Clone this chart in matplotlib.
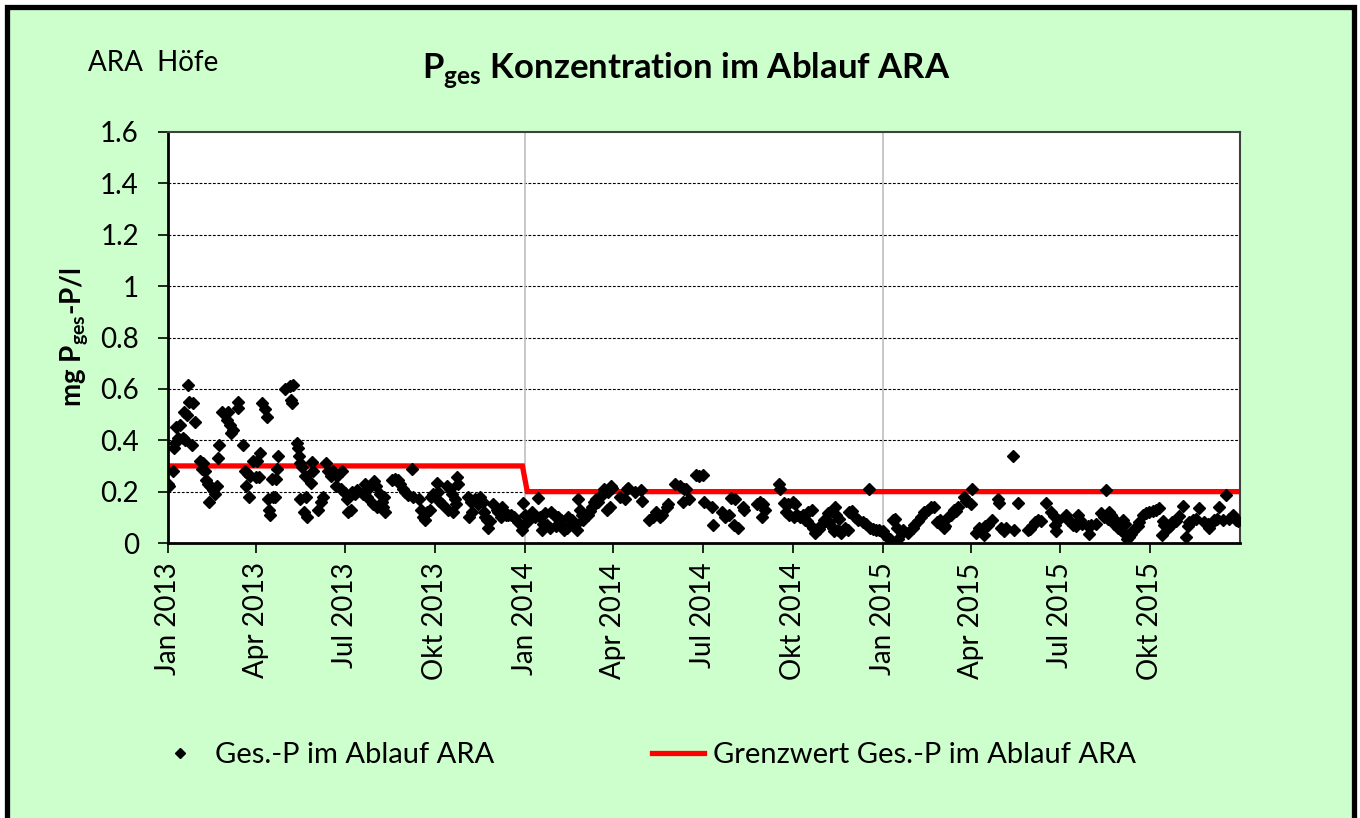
import numpy as np
import pandas as pd
import matplotlib
matplotlib.use("Agg")
import matplotlib.pyplot as plt
from matplotlib.patches import Rectangle
from matplotlib.lines import Line2D

plt.rcParams['font.family'] = ['Lato', 'DejaVu Sans']
plt.rcParams['mathtext.fontset'] = 'custom'
plt.rcParams['mathtext.rm'] = 'Lato'
plt.rcParams['mathtext.bf'] = 'Lato:bold'

# Messwerte: Tage seit 1.1.2013 und Ges.-P in mg/l
tage = [
    0, 1, 5, 6, 7, 8, 10, 12, 15, 16, 17, 19, 20, 21, 26, 28, 25, 33, 35, 36,
    38, 39, 41, 42, 43, 46, 48, 50, 51, 52, 55, 61, 60, 63, 64, 66, 71, 72, 77, 79,
    80, 82, 83, 84, 87, 91, 90, 93, 94, 96, 99, 101, 102, 103, 104, 106, 107, 109, 110, 111,
    112, 120, 125, 128, 126, 127, 132, 133, 134, 135, 135, 137, 140, 141, 139, 142, 147, 148, 146, 153,
    156, 158, 161, 163, 166, 169, 173, 172, 178, 177, 181, 183, 184, 186, 189, 193,
    188, 191, 187, 201, 204, 210, 212, 199, 203, 209, 213, 219, 220, 222, 217, 221, 229, 232, 235, 237,
    240, 242, 249, 245, 250, 256, 258, 260, 263, 265, 268, 269, 271, 275, 276, 277, 280, 285, 288, 290,
    295, 296, 286, 291, 293, 294, 306, 309, 311, 307, 314, 317, 319, 322, 323, 324, 326, 327, 329, 332,
    336, 337, 341, 343, 347, 340, 345, 350, 353, 357, 363, 365, 367, 362, 372, 375, 378, 380, 382, 383,
    385, 387, 391, 390, 394, 396, 398, 401, 402, 404, 408, 409, 413, 416, 418, 419, 421, 423, 424, 426,
    429, 431, 433, 435, 437, 439, 440, 444, 445, 449, 450, 452, 454, 448, 451, 462, 467, 469, 470, 477,
    483, 484, 491, 495, 498, 503, 505, 510, 511, 518, 523, 527, 529, 526, 532, 539, 542, 546, 547, 556,
    557, 566, 569, 573, 575, 578, 582,
    579, 587, 588, 602, 605, 608, 610, 607, 624, 625, 629, 633, 638, 640, 631, 634, 639, 643, 646, 649,
    654, 658, 651, 653, 659, 661, 665, 667, 670, 674, 672, 675, 679, 680, 684, 687, 692, 695, 681, 682,
    685, 696, 699, 702, 705, 710, 713, 716, 717, 720, 723, 726, 730, 731, 735, 738, 741, 743, 745, 746,
    750, 751, 756, 761, 762, 766, 769, 772, 776,
    779, 782, 789, 786, 791, 794, 793, 797, 800, 803, 805, 807, 813, 815, 820, 821, 825, 828, 832, 833,
    835, 838, 842, 848, 849, 851, 854, 856, 863, 864, 868, 878, 881, 883, 886, 889, 892, 897, 902, 905,
    909, 906, 907, 917, 919, 922, 924, 927, 930, 932, 934, 940, 941, 943, 948, 953, 956, 960, 958, 963,
    965, 966, 970, 973,
    961, 968, 971, 976, 978, 977, 980, 982, 984, 986, 987, 991, 992, 996, 999, 1002, 1006, 1009, 1012, 1016,
    1017, 1015, 1021, 1024, 1026, 1030, 1033, 1037, 1040, 1042, 1043, 1047, 1050, 1053, 1058, 1062, 1063, 1067, 1068, 1072,
    1074, 1078, 1081, 1084, 1088, 1091, 1093,
]
p_ges = [
    0.23, 0.22, 0.28, 0.37, 0.39, 0.45, 0.41, 0.46, 0.41, 0.51, 0.40, 0.50, 0.615, 0.55, 0.545, 0.47, 0.38, 0.32, 0.29, 0.31,
    0.28, 0.245, 0.23, 0.16, 0.22, 0.205, 0.19, 0.22, 0.33, 0.38, 0.51, 0.51, 0.48, 0.46, 0.43, 0.44, 0.55, 0.525, 0.38, 0.28,
    0.22, 0.27, 0.18, 0.26, 0.32, 0.32, 0.255, 0.255, 0.35, 0.545, 0.52, 0.49, 0.17, 0.13, 0.11, 0.25, 0.18, 0.18, 0.25, 0.29,
    0.34, 0.60, 0.61, 0.615, 0.555, 0.545, 0.39, 0.37, 0.34, 0.31, 0.17, 0.295, 0.26, 0.18, 0.12, 0.10, 0.315, 0.28, 0.235, 0.13,
    0.16, 0.18, 0.31, 0.28, 0.26, 0.28, 0.26, 0.22, 0.28, 0.21, 0.195, 0.17, 0.12, 0.185, 0.195, 0.205,
    0.20, 0.19, 0.13, 0.23, 0.21, 0.24, 0.22, 0.19, 0.18, 0.15, 0.14, 0.16, 0.14, 0.12, 0.19, 0.18, 0.245, 0.25, 0.245, 0.23,
    0.21, 0.20, 0.29, 0.185, 0.18, 0.17, 0.13, 0.10, 0.09, 0.12, 0.13, 0.18, 0.19, 0.235, 0.20, 0.165, 0.15, 0.22, 0.21, 0.19,
    0.255, 0.23, 0.13, 0.12, 0.17, 0.15, 0.18, 0.16, 0.12, 0.10, 0.17, 0.15, 0.18, 0.16, 0.12, 0.10, 0.09, 0.06, 0.085, 0.15,
    0.13, 0.12, 0.14, 0.12, 0.11, 0.10, 0.11, 0.11, 0.10, 0.08, 0.155, 0.11, 0.08, 0.05, 0.12, 0.10, 0.175, 0.10, 0.05, 0.075,
    0.115, 0.07, 0.12, 0.06, 0.11, 0.065, 0.10, 0.09, 0.07, 0.05, 0.06, 0.10, 0.09, 0.07, 0.05, 0.17, 0.13, 0.11, 0.09, 0.10,
    0.11, 0.125, 0.14, 0.16, 0.17, 0.16, 0.18, 0.19, 0.21, 0.20, 0.21, 0.22, 0.215, 0.13, 0.14, 0.18, 0.17, 0.21, 0.215, 0.20,
    0.205, 0.165, 0.09, 0.10, 0.12, 0.10, 0.11, 0.14, 0.15, 0.23, 0.22, 0.21, 0.21, 0.16, 0.17, 0.265, 0.26, 0.265, 0.16, 0.14,
    0.07, 0.12, 0.10, 0.11, 0.175, 0.07, 0.06,
    0.17, 0.14, 0.13, 0.15, 0.16, 0.15, 0.13, 0.10, 0.23, 0.21, 0.155, 0.15, 0.16, 0.15, 0.12, 0.11, 0.10, 0.11, 0.10, 0.11,
    0.12, 0.13, 0.09, 0.085, 0.06, 0.04, 0.055, 0.07, 0.09, 0.115, 0.085, 0.08, 0.06, 0.045, 0.05, 0.04, 0.06, 0.05, 0.14, 0.11,
    0.095, 0.12, 0.125, 0.10, 0.09, 0.08, 0.075, 0.21, 0.06, 0.055, 0.05, 0.05, 0.045, 0.035, 0.02, 0.015, 0.09, 0.095, 0.06, 0.015,
    0.04, 0.05, 0.04, 0.06, 0.07, 0.085, 0.10, 0.12, 0.13,
    0.14, 0.14, 0.09, 0.08, 0.07, 0.065, 0.06, 0.10, 0.11, 0.13, 0.125, 0.14, 0.18, 0.165, 0.15, 0.21, 0.04, 0.06, 0.055, 0.03,
    0.065, 0.07, 0.09, 0.17, 0.155, 0.06, 0.045, 0.06, 0.34, 0.05, 0.155, 0.05, 0.055, 0.065, 0.08, 0.09, 0.085, 0.155, 0.12, 0.105,
    0.09, 0.07, 0.045, 0.11, 0.09, 0.08, 0.07, 0.065, 0.11, 0.09, 0.075, 0.065, 0.035, 0.07, 0.075, 0.115, 0.10, 0.095, 0.205, 0.11,
    0.08, 0.075, 0.06, 0.05,
    0.12, 0.085, 0.07, 0.09, 0.075, 0.04, 0.015, 0.025, 0.035, 0.045, 0.055, 0.065, 0.08, 0.11, 0.115, 0.12, 0.125, 0.13, 0.135, 0.085,
    0.07, 0.03, 0.06, 0.065, 0.08, 0.085, 0.105, 0.145, 0.025, 0.065, 0.08, 0.09, 0.095, 0.135, 0.08, 0.075, 0.06, 0.08, 0.09, 0.095,
    0.14, 0.09, 0.185, 0.095, 0.11, 0.09, 0.085,
]

# Grenzwert
grenz_datum = ['2013-01-01', '2013-12-29', '2014-01-03', '2016-01-01']
grenz_wert = [0.3, 0.3, 0.2, 0.2]

monate = {1: 'Jan', 4: 'Apr', 7: 'Jul', 10: 'Okt'}
y_ticks = [0, 0.2, 0.4, 0.6, 0.8, 1.0, 1.2, 1.4, 1.6]

datum = np.datetime64('2013-01-01') + np.array(tage).astype('timedelta64[D]')
grenz_x = np.array(grenz_datum, dtype='datetime64[D]')

fig = plt.figure(figsize=(13.6, 8.18), dpi=100, facecolor='white')
# green background with black frame
fig.patches.append(Rectangle((6.5 / 1360, -0.05), 1347 / 1360, 1 - 6.5 / 818 + 0.05,
                             transform=fig.transFigure, facecolor='#CCFFCC',
                             edgecolor='black', lw=3.8, zorder=-10))

ax = fig.add_axes([168 / 1360, 1 - 543 / 818, 1072 / 1360, 411 / 818])
ax.set_facecolor('white')

for yv in y_ticks[1:-1]:
    ax.axhline(yv, color='black', lw=0.8, ls=(0, (2.5, 1.5)), zorder=1)
for jahr in ['2014-01-01', '2015-01-01']:
    ax.axvline(np.datetime64(jahr), color='#BFBFBF', lw=1.2, zorder=1)

ax.plot(grenz_x, grenz_wert, color='#FF0000', lw=3.8, zorder=2, solid_joinstyle='miter')
ax.plot(datum, p_ges, ls='none', marker='D', ms=6, color='black', zorder=3)

ax.set_xlim(np.datetime64('2013-01-01'), np.datetime64('2016-01-01'))
ax.set_ylim(0, 1.6)

quartale = pd.date_range('2013-01-01', '2015-10-01', freq='QS')
ax.set_xticks(quartale.values)
ax.set_xticklabels([f'{monate[d.month]} {d.year}' for d in quartale], rotation=90, fontsize=20)
ax.set_yticks(y_ticks)
ax.set_yticklabels(['0', '0.2', '0.4', '0.6', '0.8', '1', '1.2', '1.4', '1.6'], fontsize=20)
ax.tick_params(axis='both', direction='out', length=7, width=1.2, color='black')
ax.tick_params(axis='y', pad=14)
ax.tick_params(axis='x', pad=7)

for s in ['left', 'bottom']:
    ax.spines[s].set_linewidth(2)
    ax.spines[s].set_color('black')
for s in ['top', 'right']:
    ax.spines[s].set_linewidth(1.5)
    ax.spines[s].set_color('#404040')

fig.text(75 / 1360, 1 - 337 / 818, r'mg P$_{\mathbf{ges}}$-P/l', rotation=90, fontsize=20,
         fontweight='bold', ha='center', va='center')
fig.text(686 / 1360, 1 - 70 / 818, r'P$_{\mathbf{ges}}$ Konzentration im Ablauf ARA', fontsize=25,
         fontweight='bold', ha='center', va='center')
fig.text(88 / 1360, 1 - 63 / 818, 'ARA  Höfe', fontsize=20, ha='left', va='center')

handles = [Line2D([], [], ls='none', marker='D', ms=5, color='black'),
           Line2D([], [], color='#FF0000', lw=3.8)]
fig.legend(handles, ['Ges.-P im Ablauf ARA', 'Grenzwert Ges.-P im Ablauf ARA'],
           loc='center', bbox_to_anchor=(645 / 1360, 1 - 755 / 818), ncol=2, frameon=False,
           fontsize=21, handlelength=1.8, handletextpad=0.3, columnspacing=5.4)

fig.savefig('out.png', dpi=100, facecolor=fig.get_facecolor())
